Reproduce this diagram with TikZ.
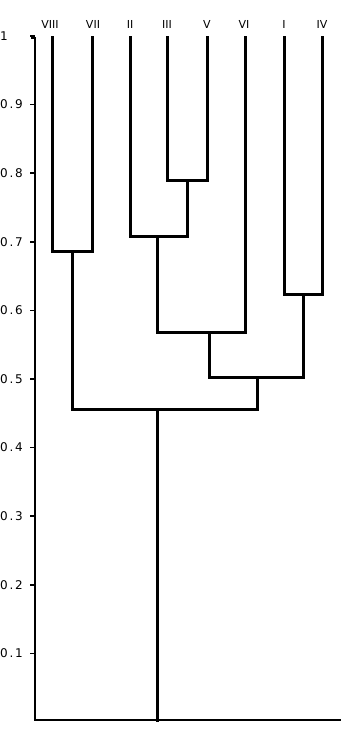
\documentclass[tikz,border=0pt]{standalone}
\usepackage{fontspec}
\newfontfamily\labfont[LetterSpace=15]{DejaVu Sans}
\newfontfamily\leaffont{DejaVu Sans}
\begin{document}
\begin{tikzpicture}[x=1pt,y=-1pt,
  branch/.style={line width=3pt,line join=miter,line cap=rect},
  axis/.style={line width=1.6pt},
  ticklab/.style={font=\labfont\fontsize{12}{13}\selectfont,anchor=west,inner sep=0pt},
  leaflab/.style={font=\leaffont\fontsize{11}{12}\selectfont,anchor=south,inner sep=0pt}]
\useasboundingbox (0,0) rectangle (344,732);
% axis
\coordinate (atop) at (35,38);
\coordinate (abot) at (35,720);
\coordinate (aend) at (341,720);
\coordinate (hook) at (31,38);
\draw[axis] (hook) -- (atop) -- (abot) -- (aend);
\foreach \k/\t in {10/1,9/0.9,8/0.8,7/0.7,6/0.6,5/0.5,4/0.4,3/0.3,2/0.2,1/0.1}{
  \pgfmathsetmacro{\yy}{722-68.6*\k}
  \coordinate (t\k) at (35,\yy);
  \coordinate (tl\k) at (30,\yy);
  \draw[axis] (tl\k) -- (t\k);
  \node[ticklab] (lab\k) at (0,\yy) {\t};
}
% leaves
\foreach \n/\x in {VIII/50,VII/93,II/130,III/167,V/207,VI/244,I/284,IV/322}{
  \node[leaflab] (L\n) at (\x,29) {\n};
}
\foreach \n/\x in {VIII/52,VII/92,II/130,III/167,V/207,VI/245,I/284,IV/322}{
  \coordinate (\n) at (\x,37);
}
% merge points
\coordinate (m1) at (72,251);
\coordinate (m2) at (187,180);
\coordinate (m3) at (157,236);
\coordinate (m4) at (209,332);
\coordinate (m5) at (303,294);
\coordinate (m6) at (257,377);
\coordinate (m7) at (157,409);
\coordinate (root) at (157,720);
\draw[branch] (VIII) |- (m1) -| (VII);
\draw[branch] (III) |- (m2) -| (V);
\draw[branch] (II) |- (m3) -| (m2);
\draw[branch] (m3) |- (m4) -| (VI);
\draw[branch] (I) |- (m5) -| (IV);
\draw[branch] (m4) |- (m6) -| (m5);
\draw[branch] (m1) |- (m7) -| (m6);
\draw[branch] (m7) -- (root);
\end{tikzpicture}
\end{document}
